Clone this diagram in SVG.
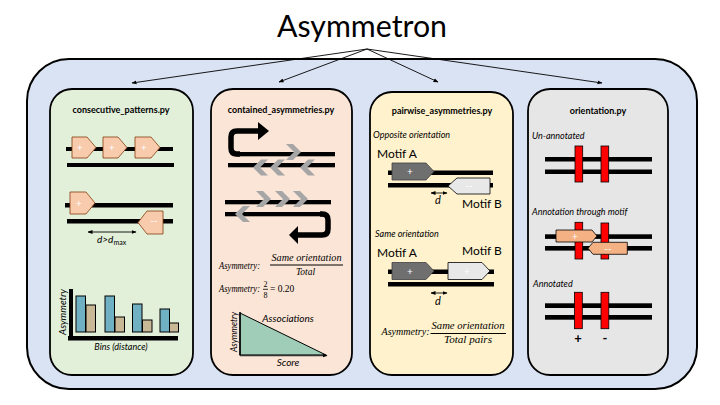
<svg xmlns="http://www.w3.org/2000/svg" width="720" height="405" viewBox="0 0 720 405">
<defs>
<style>
.sans{font-family:Lato,"Open Sans","Liberation Sans",sans-serif}
.it{font-family:Lato,"Open Sans","Liberation Sans",sans-serif;font-style:italic}
.math{font-family:"Liberation Serif","DejaVu Serif",serif;font-style:italic;fill:#000}
.mathr{font-family:"Liberation Serif","DejaVu Serif",serif;fill:#000}
.ptitle{font-family:Lato,"Open Sans","Liberation Sans",sans-serif;font-weight:bold;font-size:9px;text-anchor:middle}
.panel{stroke:#000;stroke-width:1.8}
.bar{fill:#000}
.pch{fill:#f8cbad;stroke:#843c0c;stroke-width:0.8}
.pch4{fill:#f4b183;stroke:#000;stroke-width:0.8}
.wt{fill:#fff;font-family:Lato,"Open Sans","Liberation Sans",sans-serif;font-size:10px;text-anchor:middle}
.red{fill:#ff0000;stroke:#000;stroke-width:0.8}
.chev{fill:#a6a6a6}
.blue{fill:#70b0c3;stroke:#000;stroke-width:1}
.tan{fill:#c9b896;stroke:#000;stroke-width:1}
.conn{stroke:#000;stroke-width:0.9;fill:none}
</style>
<marker id="ah" viewBox="0 0 10 10" refX="9" refY="5" markerWidth="5" markerHeight="5" orient="auto" markerUnits="userSpaceOnUse">
<path d="M0,1 L10,5 L0,9 z" fill="#000"/>
</marker>
<marker id="dh" viewBox="0 0 10 10" refX="9" refY="5" markerWidth="5" markerHeight="5" orient="auto-start-reverse" markerUnits="userSpaceOnUse">
<path d="M0,1 L10,5 L0,9 z" fill="#000"/>
</marker>
<polygon id="chR" points="0,0 7,0 15,8 7,16 0,16 8,8"/>
<polygon id="chL" points="15,0 8,0 0,8 8,16 15,16 7,8"/>
</defs>

<g id="container">
<rect x="27" y="59" width="670" height="330" rx="42" fill="#dae3f3" stroke="#000" stroke-width="2"/>
</g>

<g id="title">
<text x="362" y="37" class="sans" font-size="30" text-anchor="middle" textLength="170" lengthAdjust="spacingAndGlyphs">Asymmetron</text>
</g>

<g id="connectors">
<line class="conn" x1="367" y1="49" x2="132" y2="83" marker-end="url(#ah)"/>
<line class="conn" x1="367" y1="49" x2="279" y2="82" marker-end="url(#ah)"/>
<line class="conn" x1="367" y1="49" x2="438" y2="82" marker-end="url(#ah)"/>
<line class="conn" x1="367" y1="49" x2="602" y2="83" marker-end="url(#ah)"/>
</g>

<g id="consecutive_patterns">
<rect class="panel" x="50" y="89" width="143" height="286" rx="22" fill="#e2efd9"/>
<text class="ptitle" x="121" y="113">consecutive_patterns.py</text>
<rect class="bar" x="66" y="147" width="107" height="4"/>
<rect class="bar" x="67" y="163" width="107" height="4"/>
<polygon class="pch" points="72,137 87,137 96,147.5 87,158 72,158"/>
<polygon class="pch" points="103,137 118,137 127,147.5 118,158 103,158"/>
<polygon class="pch" points="135,137 151,137 160,147.5 151,158 135,158"/>
<text class="wt" x="80" y="151">+</text>
<text class="wt" x="112" y="151">+</text>
<text class="wt" x="144" y="151">+</text>
<rect class="bar" x="65" y="203" width="108" height="4.5"/>
<rect class="bar" x="67" y="219" width="106" height="4.5"/>
<polygon class="pch" points="70,192 86,192 95,203 86,214 70,214"/>
<text class="wt" x="79" y="206.5">+</text>
<polygon class="pch" points="138,222.5 147,211 163,211 163,234 147,234"/>
<text class="wt" x="154" y="224">--</text>
<line x1="88" y1="232" x2="136" y2="232" stroke="#000" stroke-width="0.9" marker-start="url(#dh)" marker-end="url(#dh)"/>
<text class="it" x="97" y="243" font-size="10">d&gt;d<tspan font-style="normal" font-size="7" dy="1.5">max</tspan></text>
<rect class="blue" x="76" y="296" width="9.5" height="36"/>
<rect class="tan" x="86" y="305" width="9.5" height="27"/>
<rect class="blue" x="105" y="296" width="9.5" height="36"/>
<rect class="tan" x="115" y="317" width="9.5" height="15"/>
<rect class="blue" x="132.5" y="304" width="9.5" height="28"/>
<rect class="tan" x="142.5" y="320" width="9.5" height="12"/>
<rect class="blue" x="160" y="309" width="9.5" height="23"/>
<rect class="tan" x="169.5" y="323" width="9" height="9"/>
<rect class="bar" x="69" y="289" width="4" height="51"/>
<rect class="bar" x="68" y="336" width="110" height="4.5"/>
<text class="it" font-size="9.5" x="0" y="0" text-anchor="middle" transform="translate(66 312) rotate(-90)" textLength="46" lengthAdjust="spacingAndGlyphs">Asymmetry</text>
<text class="it" font-size="9" x="121" y="350" text-anchor="middle">Bins (distance)</text>
</g>

<g id="contained_asymmetries">
<rect class="panel" x="211" y="89" width="141" height="286" rx="22" fill="#fbe5d6"/>
<text class="ptitle" x="281" y="113">contained_asymmetries.py</text>
<rect class="bar" x="235" y="152" width="100" height="4.3"/>
<rect class="bar" x="228" y="163" width="107" height="4.3"/>
<path d="M240,154 H237 Q231,154 231,148 V137 Q231,131 237,131 H260" fill="none" stroke="#000" stroke-width="5.5"/>
<polygon points="258,122 269,131 258,140" fill="#000"/>
<use href="#chR" class="chev" x="286" y="144"/>
<use href="#chL" class="chev" x="253" y="159.5"/>
<use href="#chL" class="chev" x="270" y="159.5"/>
<use href="#chL" class="chev" x="300" y="159.5"/>
<rect class="bar" x="225" y="200" width="106" height="4.3"/>
<rect class="bar" x="225" y="212" width="100" height="4.3"/>
<path d="M320,214 H322 Q328,214 328,220 V229 Q328,235 322,235 H297" fill="none" stroke="#000" stroke-width="5.5"/>
<polygon points="298,226 289,235 298,244" fill="#000"/>
<use href="#chR" class="chev" x="256" y="191"/>
<use href="#chR" class="chev" x="275" y="191"/>
<use href="#chR" class="chev" x="293" y="191"/>
<use href="#chL" class="chev" x="235" y="206"/>
<text class="math" font-size="9.5" x="219" y="269" textLength="41" lengthAdjust="spacingAndGlyphs">Asymmetry:</text>
<text class="math" font-size="9.5" x="306.5" y="260.5" text-anchor="middle" textLength="70" lengthAdjust="spacingAndGlyphs">Same orientation</text>
<line x1="270" y1="265" x2="343" y2="265" stroke="#000" stroke-width="1"/>
<text class="math" font-size="9.5" x="305.5" y="274.5" text-anchor="middle">Total</text>
<text class="math" font-size="9.5" x="219" y="291.5" textLength="41" lengthAdjust="spacingAndGlyphs">Asymmetry:</text>
<text class="mathr" font-size="8" x="265.5" y="287" text-anchor="middle">2</text>
<line x1="263" y1="289.3" x2="268" y2="289.3" stroke="#000" stroke-width="0.8"/>
<text class="mathr" font-size="8" x="265.5" y="297.5" text-anchor="middle">8</text>
<text class="mathr" font-size="9.5" x="270" y="291.5">= 0.20</text>
<polygon points="240,313 240,355 326,355" fill="#a0cdb8" stroke="#000" stroke-width="1"/>
<line x1="240" y1="312" x2="240" y2="355.5" stroke="#000" stroke-width="1.5"/>
<line x1="240" y1="355.5" x2="327" y2="355.5" stroke="#333" stroke-width="1.6" marker-end="url(#ah)"/>
<text class="it" font-size="10" x="0" y="0" text-anchor="middle" transform="translate(237 332) rotate(-90)" textLength="40" lengthAdjust="spacingAndGlyphs">Asymmetry</text>
<text class="it" font-size="10" x="288" y="322" text-anchor="middle">Associations</text>
<text class="it" font-size="10" x="288" y="366" text-anchor="middle">Score</text>
</g>

<g id="pairwise_asymmetries">
<rect class="panel" x="370" y="92" width="143" height="283" rx="22" fill="#fff2cc"/>
<text class="ptitle" x="442" y="114">pairwise_asymmetries.py</text>
<text class="it" font-size="9" x="373" y="138">Opposite orientation</text>
<text class="sans" font-size="12" x="377" y="158">Motif A</text>
<rect class="bar" x="388" y="170.5" width="105" height="4.5"/>
<rect class="bar" x="388" y="183" width="105" height="4.5"/>
<polygon points="392,163 426,163 434,171.5 426,180 392,180" fill="#6f6f6f" stroke="#404040" stroke-width="0.8"/>
<text class="wt" x="410" y="175">+</text>
<polygon points="448,186 457,178 490,178 490,194 457,194" fill="#e8e8e8" stroke="#000" stroke-width="0.8"/>
<text class="wt" x="469" y="188.5">--</text>
<line x1="431" y1="193" x2="447" y2="193" stroke="#000" stroke-width="0.9" marker-start="url(#dh)" marker-end="url(#dh)"/>
<text class="it" font-size="11" x="438" y="204" text-anchor="middle">d</text>
<text class="sans" font-size="12" x="462" y="208">Motif B</text>
<text class="it" font-size="9" x="375" y="237">Same orientation</text>
<text class="sans" font-size="12" x="377" y="257">Motif A</text>
<text class="sans" font-size="12" x="462" y="255">Motif B</text>
<rect class="bar" x="388" y="269.5" width="106" height="4.5"/>
<rect class="bar" x="388" y="282" width="106" height="4.5"/>
<polygon points="392,262.5 426,262.5 434,271 426,279.5 392,279.5" fill="#6f6f6f" stroke="#404040" stroke-width="0.8"/>
<text class="wt" x="410" y="274.5">+</text>
<polygon points="448,262.5 482,262.5 490,271 482,279.5 448,279.5" fill="#e8e8e8" stroke="#000" stroke-width="0.8"/>
<text class="wt" x="467" y="274.5">+</text>
<line x1="431" y1="293" x2="447" y2="293" stroke="#000" stroke-width="0.9" marker-start="url(#dh)" marker-end="url(#dh)"/>
<text class="it" font-size="11" x="438" y="305" text-anchor="middle">d</text>
<text class="math" font-size="9.5" x="381.5" y="335" textLength="48" lengthAdjust="spacingAndGlyphs">Asymmetry:</text>
<text class="math" font-size="9.5" x="468" y="328.5" text-anchor="middle" textLength="73" lengthAdjust="spacingAndGlyphs">Same orientation</text>
<line x1="430.5" y1="333.5" x2="506" y2="333.5" stroke="#000" stroke-width="1"/>
<text class="math" font-size="9.5" x="468" y="343" text-anchor="middle" textLength="48" lengthAdjust="spacingAndGlyphs">Total pairs</text>
</g>

<g id="orientation">
<rect class="panel" x="528" y="89" width="140" height="286" rx="22" fill="#e7e6e6"/>
<text class="ptitle" x="598" y="114">orientation.py</text>
<text class="it" font-size="9" x="532" y="139">Un-annotated</text>
<rect class="bar" x="545" y="157" width="107" height="4.5"/>
<rect class="bar" x="545" y="169.5" width="107" height="4.5"/>
<rect class="red" x="575" y="146" width="7.7" height="36"/>
<rect class="red" x="601" y="146" width="7.7" height="36"/>
<text class="it" font-size="9" x="532" y="214.5">Annotation through motif</text>
<rect class="bar" x="545" y="234.3" width="107" height="4.6"/>
<rect class="bar" x="545" y="246" width="107" height="4.6"/>
<rect class="red" x="575" y="222.3" width="7.7" height="36.7"/>
<rect class="red" x="601" y="223" width="7.7" height="36"/>
<polygon class="pch4" points="556,230 592,230 597,236 592,242 556,242"/>
<text class="wt" x="575" y="239.5">+</text>
<polygon class="pch4" points="588,248.3 593,242.3 627.3,242.3 627.3,254.3 593,254.3"/>
<text class="wt" x="608" y="251.5">--</text>
<text class="it" font-size="9" x="533" y="287">Annotated</text>
<rect class="bar" x="545" y="303.3" width="107" height="4.7"/>
<rect class="bar" x="545" y="315" width="107" height="4.7"/>
<rect class="red" x="574.5" y="292.3" width="7.8" height="36.4"/>
<rect class="red" x="601" y="292.3" width="7.8" height="36.4"/>
<text class="sans" font-size="13" font-weight="bold" x="578" y="343" text-anchor="middle">+</text>
<text class="sans" font-size="13" font-weight="bold" x="605" y="343" text-anchor="middle">-</text>
</g>
</svg>
